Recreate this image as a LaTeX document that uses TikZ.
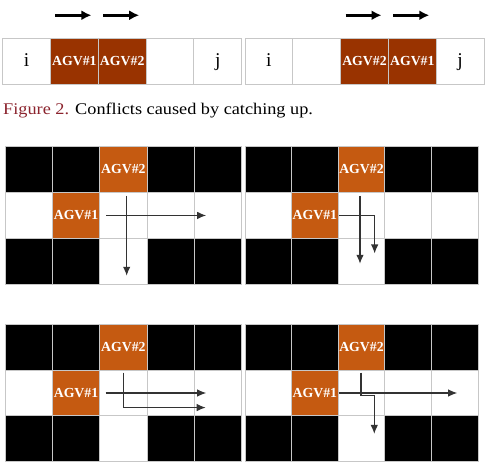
\documentclass[tikz,border=0pt]{standalone}
\usepackage{fontspec}
\setmainfont{Liberation Serif}
\newfontfamily\capfont[FakeStretch=1.12]{Liberation Serif}
\usepackage{xcolor}
\usepackage{tikz}
\usetikzlibrary{arrows.meta}
\definecolor{agvbrown}{RGB}{153,51,0}
\definecolor{agvorange}{RGB}{197,90,17}
\definecolor{figred}{RGB}{139,35,45}

\begin{document}
\begin{tikzpicture}[x=1pt,y=-1pt,>={Latex[length=9pt,width=7.5pt]},
  stripcell/.style={draw=black!22,line width=0.9pt,minimum width=47.8pt,minimum height=46pt,inner sep=0pt,
    text height=12pt,text depth=1pt,font=\fontsize{19.5}{20}\selectfont},
  agvstrip/.style={stripcell,fill=agvbrown,text=white,text height=9pt,text depth=0pt,font=\fontsize{13.8}{14}\selectfont\bfseries},
  gridline/.style={draw=black!22,line width=0.9pt},
  agvcell/.style={gridline,fill=agvorange,text=white,inner sep=0pt,font=\fontsize{13.8}{14}\selectfont\bfseries},
  motion/.style={->,line width=2.5pt,>={Latex[length=10pt,width=10pt]}},
  route/.style={->,black!80,line width=1.1pt}]
  \useasboundingbox (0,0) rectangle (491,472);
  \foreach \k/\lab in {0/i,3/,4/j}
    \node[stripcell] (sL\k) at (2.7+47.8*\k+23.9,61) {\lab};
  \node[agvstrip] (sL1) at (2.7+47.8*1+23.9,61) {AGV\#1};
  \node[agvstrip] (sL2) at (2.7+47.8*2+23.9,61) {AGV\#2};
  \foreach \k/\lab in {0/i,1/,4/j}
    \node[stripcell] (sR\k) at (245+47.8*\k+23.9,61) {\lab};
  \node[agvstrip] (sR2) at (245+47.8*2+23.9,61) {AGV\#2};
  \node[agvstrip] (sR3) at (245+47.8*3+23.9,61) {AGV\#1};
  \foreach \n in {sL1,sL2,sR2,sR3}
    \draw[motion] ([xshift=-19pt,yshift=22.3pt]\n.north) -- ++(36,0);
  \node[anchor=base west,inner sep=0pt,font=\capfont\fontsize{16.3}{18}\selectfont] (cap) at (3,114.5)
    {\textcolor{figred}{Figure 2.} Conflicts caused by catching up.};
  \foreach \gx/\gy/\w/\h/\g in {5/146/47.35/46.3/tl,245/146/46.6/46.3/tr,5/324.3/47.35/45.8/bl,245/324.3/46.6/45.8/br}{
    \foreach \cx/\ry in {0/0,1/0,3/0,4/0,0/2,1/2,3/2,4/2}
      \draw[gridline,fill=black] (\gx+\cx*\w,\gy+\ry*\h) rectangle ++(\w,\h);
    \foreach \cx/\ry in {0/1,2/1,3/1,4/1,2/2}
      \draw[gridline,fill=white] (\gx+\cx*\w,\gy+\ry*\h) rectangle ++(\w,\h);
    \node[agvcell,minimum width=\w pt,minimum height=\h pt] (\g2) at (\gx+2.5*\w,\gy+0.5*\h) {AGV\#2};
    \node[agvcell,minimum width=\w pt,minimum height=\h pt] (\g1) at (\gx+1.5*\w,\gy+1.5*\h) {AGV\#1};
  }
  \draw[route] ([xshift=6pt]tl1.east) -- ++(100,0);
  \draw[route] ([xshift=3.3pt,yshift=-3pt]tl2.south) -- ++(0,80);
  \draw[route] ([xshift=-1.5pt,yshift=-3pt]tr2.south) -- ++(0,68);
  \draw[route] (tr1.east) -- ++(36,0) -- ++(0,38);
  \draw[route] ([xshift=5.5pt]bl1.east) -- ++(100.5,0);
  \draw[route] ([yshift=-2pt]bl2.south) -- ++(0,35) -- ++(82.3,0);
  \draw[route] (br1.east) -- ++(118.5,0);
  \draw[route] ([xshift=-0.5pt,yshift=-2pt]br2.south) -- ++(0,23) -- ++(13.3,0) -- ++(0,38.3);
\end{tikzpicture}
\end{document}
